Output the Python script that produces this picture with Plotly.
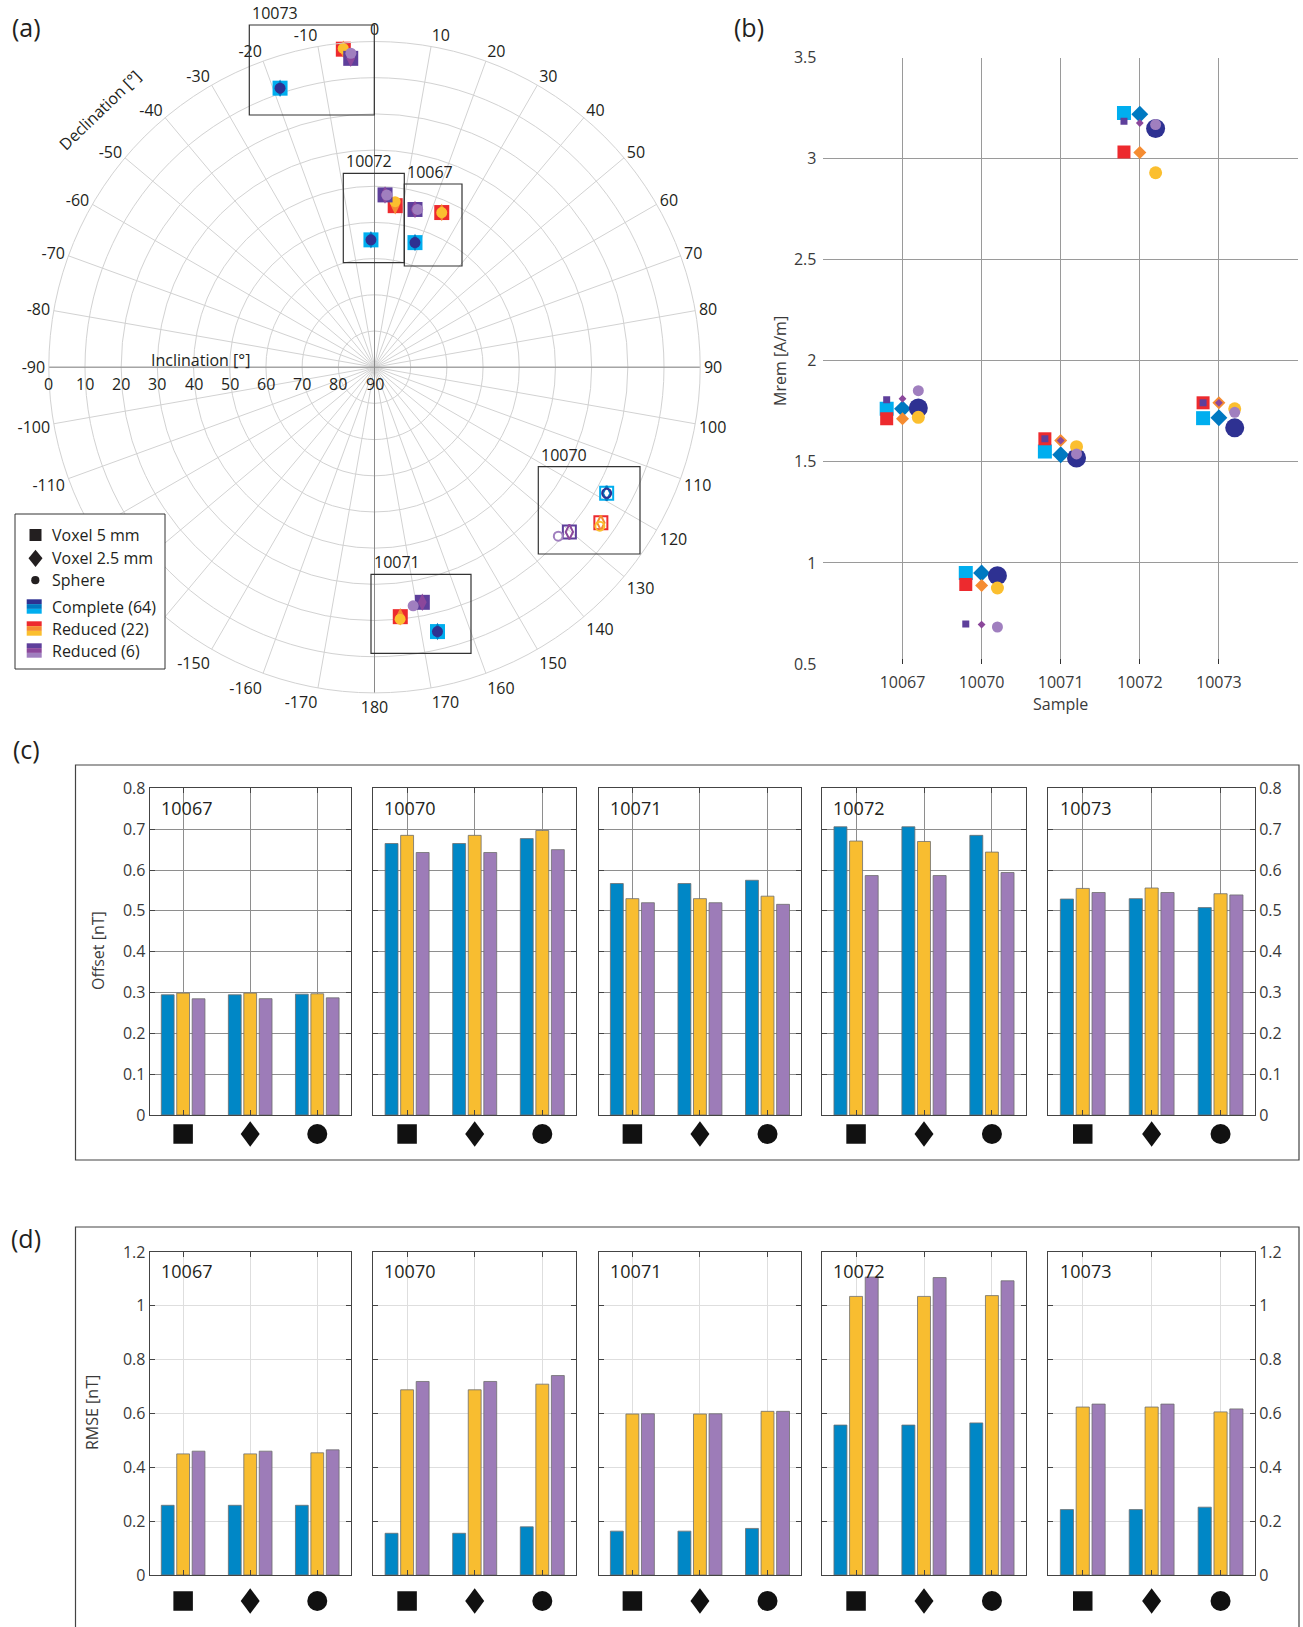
import plotly.graph_objects as go

W, H = 1303, 1627
FONT = "Open Sans"
INK = "#231f20"
TICK = "#3a3a3a"

SAMPLES = ["10067", "10070", "10071", "10072", "10073"]
MODELS = ["Complete (64)", "Reduced (22)", "Reduced (6)"]
SOURCES = ["Voxel 5 mm", "Voxel 2.5 mm", "Sphere"]

# (a) remanence direction: rows = samples, columns = (voxel 5 mm, voxel 2.5 mm, sphere)
# negative inclination = upper hemisphere (open symbols)
dec_complete = [[18.0, 18.0, 18.0], [118.5, 118.5, 118.5], [166.6, 166.6, 166.6],
                [-1.6, -1.6, -1.6], [-18.7, -18.7, -18.7]]
inc_complete = [[53.8, 53.8, 53.8], [-17.0, -17.0, -17.0], [14.9, 14.9, 14.9],
                [54.8, 54.8, 54.8], [8.6, 8.6, 8.6]]
dec_reduced22 = [[23.5, 23.5, 23.5], [124.5, 124.5, 125.2], [174.1, 174.1, 174.2],
                 [7.3, 7.3, 7.1], [-5.6, -5.6, -5.6]]
inc_reduced22 = [[43.4, 43.4, 43.4], [-14.1, -14.1, -13.8], [20.7, 20.7, 20.0],
                 [45.0, 45.0, 43.9], [1.7, 1.7, 1.5]]
dec_reduced6 = [[14.4, 14.4, 15.3], [130.2, 130.2, 132.6], [168.5, 168.5, 170.8],
                [3.5, 3.5, 4.1], [-4.4, -4.4, -4.3]]
inc_reduced6 = [[45.0, 45.0, 44.8], [-19.5, -19.5, -21.0], [23.7, 23.7, 23.2],
                [42.3, 42.3, 42.3], [4.4, 4.4, 3.0]]

# (b) Mrem [A/m]: rows = sources, columns = samples
mrem_complete = [[1.762, 0.950, 1.551, 3.226, 1.716],
                 [1.762, 0.950, 1.535, 3.219, 1.718],
                 [1.766, 0.937, 1.519, 3.149, 1.668]]
mrem_reduced22 = [[1.713, 0.893, 1.614, 3.033, 1.792],
                  [1.713, 0.888, 1.605, 3.030, 1.792],
                  [1.720, 0.876, 1.575, 2.930, 1.762]]
mrem_reduced6 = [[1.807, 0.698, 1.614, 3.185, 1.792],
                 [1.812, 0.695, 1.605, 3.176, 1.792],
                 [1.852, 0.683, 1.539, 3.168, 1.745]]

# (c) offset [nT]: rows = samples, columns = sources
offset_complete = [[0.2945, 0.2945, 0.296], [0.665, 0.665, 0.677], [0.567, 0.567, 0.575],
                   [0.706, 0.706, 0.685], [0.529, 0.530, 0.508]]
offset_reduced22 = [[0.2986, 0.2986, 0.297], [0.685, 0.685, 0.697], [0.530, 0.530, 0.536],
                    [0.671, 0.670, 0.644], [0.555, 0.556, 0.542]]
offset_reduced6 = [[0.2847, 0.285, 0.287], [0.643, 0.643, 0.650], [0.520, 0.520, 0.516],
                   [0.5865, 0.5865, 0.594], [0.545, 0.545, 0.539]]

# (d) RMSE [nT]: rows = samples, columns = sources
rmse_complete = [[0.259, 0.259, 0.259], [0.155, 0.155, 0.179], [0.163, 0.163, 0.173],
                 [0.557, 0.557, 0.565], [0.243, 0.243, 0.252]]
rmse_reduced22 = [[0.450, 0.450, 0.454], [0.688, 0.688, 0.709], [0.598, 0.598, 0.608],
                  [1.035, 1.035, 1.038], [0.624, 0.624, 0.606]]
rmse_reduced6 = [[0.460, 0.460, 0.465], [0.719, 0.719, 0.741], [0.599, 0.599, 0.608],
                 [1.107, 1.105, 1.093], [0.635, 0.635, 0.617]]

# styling
MODEL_COLORS = [["#00aeef", "#0079c1", "#2e3192"],
                ["#ed2a2e", "#f58c32", "#fbbf2f"],
                ["#5e3f9b", "#8b479b", "#a07fbf"]]
BAR_COLORS = ["#0087c6", "#f8bd30", "#9d7cb8"]
SYMBOLS_A = ["square", "diamond-tall", "circle"]
SIZES_A = [15, 12.5, 11]
SYMBOLS_B = ["square", "diamond", "circle"]
SIZES_B = [[14, 13, 19], [13, 10, 13], [7, 6, 11]]
OFFSETS_B = [-0.2, 0.0, 0.2]
GLYPH = "#111111"


def fx(p):
    return p / W


def fy(p):
    return 1 - p / H


fig = go.Figure()

# ---------------- (a) polar plot ----------------
CX, CY, R = 374.5, 367.2, 325.7
grid_a = "#d2d2d2"
for r_line, th_line in [([90, 0, 90], [0, 0, 180]), ([90, 0, 90], [-90, -90, 90])]:
    fig.add_trace(go.Scatterpolar(r=r_line, theta=th_line, mode="lines",
                                  line=dict(color="#8a8a8a", width=1),
                                  hoverinfo="skip", showlegend=False))

dirs = [(dec_complete, inc_complete), (dec_reduced22, inc_reduced22), (dec_reduced6, inc_reduced6)]
for m, (decs, incs) in enumerate(dirs):
    for s in range(3):
        color = MODEL_COLORS[m][s]
        th = [row[s] for row in decs]
        inc = [row[s] for row in incs]
        lower = [k for k in range(len(SAMPLES)) if inc[k] >= 0]
        upper = [k for k in range(len(SAMPLES)) if inc[k] < 0]
        fig.add_trace(go.Scatterpolar(
            r=[90 - abs(inc[k]) for k in lower], theta=[th[k] for k in lower],
            mode="markers", name=f"{MODELS[m]} {SOURCES[s]}",
            marker=dict(symbol=SYMBOLS_A[s], size=SIZES_A[s], color=color,
                        line=dict(width=0)),
            showlegend=False))
        fig.add_trace(go.Scatterpolar(
            r=[90 - abs(inc[k]) for k in upper], theta=[th[k] for k in upper],
            mode="markers", name=f"{MODELS[m]} {SOURCES[s]}",
            marker=dict(symbol=SYMBOLS_A[s] + "-open", size=SIZES_A[s] - 2, color=color,
                        line=dict(width=2, color=color)),
            showlegend=False))

ang_vals = list(range(0, 360, 10))
hidden_by_legend = {-120, -130, -140}
ang_text = []
for v in ang_vals:
    lab = v if v <= 180 else v - 360
    ang_text.append("" if lab in hidden_by_legend else str(lab))
inc_ticks = list(range(0, 91, 10))

# ---------------- (b) Mrem ----------------
mrem = [mrem_complete, mrem_reduced22, mrem_reduced6]
for m in range(3):
    for s in range(3):
        fig.add_trace(go.Scatter(
            x=[i + 1 + OFFSETS_B[s] for i in range(len(SAMPLES))], y=mrem[m][s],
            mode="markers", xaxis="x", yaxis="y", showlegend=False,
            name=f"{MODELS[m]} {SOURCES[s]}",
            marker=dict(symbol=SYMBOLS_B[s], size=SIZES_B[m][s], color=MODEL_COLORS[m][s],
                        line=dict(width=0))))

# ---------------- (c), (d) bars ----------------
BOX_X = [(149.6, 350.8), (373.3, 576.1), (598.6, 801.3), (822.1, 1025.9), (1048.3, 1255.0)]
C_TOP, C_BOT, C_SYM = 788.4, 1115.0, 1134.0
D_TOP, D_BOT, D_SYM = 1252.0, 1575.0, 1601.0
SYM_HALF = 16.0  # half height of the symbol strip, px

offsets = [offset_complete, offset_reduced22, offset_reduced6]
rmses = [rmse_complete, rmse_reduced22, rmse_reduced6]

layout_axes = {}
annotations = []
shapes = []


def add_panel(values, first_id, top, bot, sym_y, ymax, dtick, gridcolor):
    n = len(SAMPLES)
    for i, sample in enumerate(SAMPLES):
        k = first_id + i
        ks = k + 10
        xa, ya = f"x{k}", f"y{k}"
        xs, ys = f"x{ks}", f"y{ks}"
        for m in range(3):
            fig.add_trace(go.Bar(
                x=[1, 2, 3], y=values[m][i], xaxis=xa, yaxis=ya,
                name=MODELS[m], offsetgroup=str(m), showlegend=False,
                marker=dict(color=BAR_COLORS[m], line=dict(color="#6e6e6e", width=0.8))))
        # source glyphs under the groups: square (voxel 5 mm), diamond (voxel 2.5 mm), circle (sphere)
        fig.add_trace(go.Scatter(
            x=[1, 3], y=[0, 0], xaxis=xs, yaxis=ys,
            mode="markers", showlegend=False, hoverinfo="skip",
            marker=dict(symbol=["square", "circle"], size=[19.5, 20], color=GLYPH,
                        opacity=1, line=dict(width=0))))
        x0, x1 = BOX_X[i]
        unit_px = (x1 - x0) / 3.0
        hw = 9.5 / unit_px
        hh = 12.8 / SYM_HALF
        shapes.append(dict(type="path", xref=xs, yref=ys,
                           path=f"M {2 - hw} 0 L 2 {hh} L {2 + hw} 0 L 2 {-hh} Z",
                           line=dict(width=0), fillcolor=GLYPH, layer="above"))
        layout_axes[f"xaxis{k}"] = dict(
            domain=[fx(x0), fx(x1)], anchor=ya, range=[0.5, 3.5],
            tickvals=[1, 2, 3], showticklabels=False, showgrid=True,
            gridcolor=gridcolor, gridwidth=1, showline=True, linecolor="#444444",
            linewidth=1, mirror="ticks", ticks="inside", ticklen=5, tickcolor="#444444",
            zeroline=False, fixedrange=True)
        layout_axes[f"yaxis{k}"] = dict(
            domain=[fy(bot), fy(top)], anchor=xa, range=[0, ymax], dtick=dtick,
            showticklabels=(i == 0 or i == n - 1),
            side="right" if i == n - 1 else "left",
            showgrid=True, gridcolor=gridcolor, gridwidth=1, showline=True,
            linecolor="#444444", linewidth=1, mirror="ticks", ticks="inside",
            ticklen=5, tickcolor="#444444", zeroline=False,
            tickfont=dict(size=16, color=TICK, family=FONT), fixedrange=True)
        layout_axes[f"xaxis{ks}"] = dict(
            domain=[fx(x0), fx(x1)], anchor=ys, range=[0.5, 3.5], visible=False,
            fixedrange=True)
        layout_axes[f"yaxis{ks}"] = dict(
            domain=[fy(sym_y + SYM_HALF), fy(sym_y - SYM_HALF)], anchor=xs, range=[-1, 1],
            visible=False, fixedrange=True)
        annotations.append(dict(
            text=sample, xref=f"{xa} domain", yref=f"{ya} domain",
            x=0.045, y=0.94, xanchor="left", yanchor="middle", showarrow=False,
            font=dict(size=18, color=INK, family=FONT)))


add_panel(offsets, 2, C_TOP, C_BOT, C_SYM, 0.8, 0.1, "#8e8e8e")
add_panel(rmses, 7, D_TOP, D_BOT, D_SYM, 1.2, 0.2, "#dedede")


# ---------------- annotations & decorations ----------------
def label(text, x, y, size=16, xanchor="center", yanchor="middle", angle=0, color=INK):
    annotations.append(dict(text=text, x=fx(x), y=fy(y), xref="paper", yref="paper",
                            xanchor=xanchor, yanchor=yanchor, showarrow=False,
                            textangle=angle, font=dict(size=size, color=color, family=FONT)))


label("(a)", 26, 27, size=25)
label("(b)", 749, 27, size=25)
label("(c)", 26, 749, size=25)
label("(d)", 26, 1238, size=25)

# inclination scale along the left radius of (a)
for inc_v in inc_ticks:
    label(str(inc_v), CX - (90 - inc_v) * R / 90, CY + 16.5, size=16)
label("Inclination [°]", 201, 360, size=16)
label("Declination [°]", 100, 110, size=16, angle=-44)

label("Mrem [A/m]", 780, 361, size=16, angle=-90, color=TICK)
label("Sample", 1060, 704, size=16, color=TICK)
label("Offset [nT]", 98, 951, size=16, angle=-90, color=TICK)
label("RMSE [nT]", 92, 1413, size=16, angle=-90, color=TICK)

# cluster boxes in (a)
cluster_boxes = [("10073", 249.3, 25.0, 374.3, 115.0),
                 ("10072", 343.3, 173.3, 404.3, 262.7),
                 ("10067", 404.3, 184.0, 462.0, 266.0),
                 ("10070", 538.3, 466.7, 640.0, 554.0),
                 ("10071", 371.0, 574.3, 471.0, 653.3)]
for name, x0, y0, x1, y1 in cluster_boxes:
    shapes.append(dict(type="rect", xref="paper", yref="paper", x0=fx(x0), x1=fx(x1),
                       y0=fy(y1), y1=fy(y0), line=dict(color="#333333", width=1.2)))
    label(name, x0 + 1, y0 + 1, size=16, xanchor="left", yanchor="bottom")

# legend of (a)
shapes.append(dict(type="rect", xref="paper", yref="paper", x0=fx(15), x1=fx(165),
                   y0=fy(669), y1=fy(514), line=dict(color="#333333", width=1),
                   fillcolor="white"))
shapes.append(dict(type="rect", xref="paper", yref="paper", x0=fx(29.5), x1=fx(41.5),
                   y0=fy(541), y1=fy(529), line=dict(width=0), fillcolor=INK))
shapes.append(dict(type="path", xref="paper", yref="paper",
                   path=f"M {fx(35.5)} {fy(549.7)} L {fx(42.5)} {fy(558.3)} "
                        f"L {fx(35.5)} {fy(567)} L {fx(28.5)} {fy(558.3)} Z",
                   line=dict(width=0), fillcolor=INK))
shapes.append(dict(type="circle", xref="paper", yref="paper", x0=fx(31.2), x1=fx(39.4),
                   y0=fy(584.3), y1=fy(576.1), line=dict(width=0), fillcolor=INK))
for j, txt in enumerate(SOURCES):
    label(txt, 50, [535, 558, 580][j], size=16, xanchor="left")

swatch_tops = [599.3, 621.3, 643.3]
stripe_order = [[2, 1, 0], [0, 1, 2], [0, 1, 2]]
for m in range(3):
    for j, c_idx in enumerate(stripe_order[m]):
        t = swatch_tops[m] + j * 4.8
        shapes.append(dict(type="rect", xref="paper", yref="paper", x0=fx(26.7),
                           x1=fx(41.7), y0=fy(t + 4.8), y1=fy(t),
                           line=dict(width=0), fillcolor=MODEL_COLORS[m][c_idx]))
    label(MODELS[m], 50, swatch_tops[m] + 7.2, size=16, xanchor="left")

# frames around (c) and (d)
shapes.append(dict(type="rect", xref="paper", yref="paper", x0=fx(75.5), x1=fx(1299),
                   y0=fy(1160), y1=fy(765), line=dict(color="#444444", width=1.2)))
shapes.append(dict(type="rect", xref="paper", yref="paper", x0=fx(75.5), x1=fx(1299),
                   y0=fy(1640), y1=fy(1227), line=dict(color="#444444", width=1.2)))

fig.update_layout(
    width=W, height=H, margin=dict(l=0, r=0, t=0, b=0, pad=0, autoexpand=False),
    paper_bgcolor="white", plot_bgcolor="white",
    font=dict(family=FONT, color=TICK),
    showlegend=False,
    barmode="group", bargap=0.31, bargroupgap=0.17,
    polar=dict(
        domain=dict(x=[fx(CX - R), fx(CX + R)], y=[fy(CY + R), fy(CY - R)]),
        bgcolor="white",
        angularaxis=dict(rotation=90, direction="clockwise", tickvals=ang_vals,
                         ticktext=ang_text, showgrid=True, gridcolor=grid_a,
                         gridwidth=1, showline=True, linecolor=grid_a, linewidth=1,
                         ticks="", tickfont=dict(size=16, color=INK, family=FONT)),
        radialaxis=dict(range=[0, 90], tickvals=inc_ticks, showticklabels=False,
                        angle=180, showgrid=True, gridcolor=grid_a, gridwidth=1,
                        showline=False, ticks=""),
    ),
    xaxis=dict(domain=[fx(823.4), fx(1298)], anchor="y", range=[0, 6],
               tickvals=[1, 2, 3, 4, 5], ticktext=SAMPLES, showgrid=True,
               gridcolor="#9a9a9a", gridwidth=1.2, showline=False, zeroline=False,
               ticks="inside", ticklen=5, tickcolor="#333333", ticklabelstandoff=7,
               tickfont=dict(size=16, color=TICK, family=FONT), fixedrange=True),
    yaxis=dict(domain=[fy(664), fy(57.5)], anchor="x", range=[0.5, 3.5], dtick=0.5,
               showgrid=True, gridcolor="#9a9a9a", gridwidth=1.2, showline=False,
               zeroline=False, ticks="", ticklabelstandoff=6,
               tickfont=dict(size=16, color=TICK, family=FONT), fixedrange=True),
    annotations=annotations,
    shapes=shapes,
    **layout_axes,
)

fig.write_html("out.html")
